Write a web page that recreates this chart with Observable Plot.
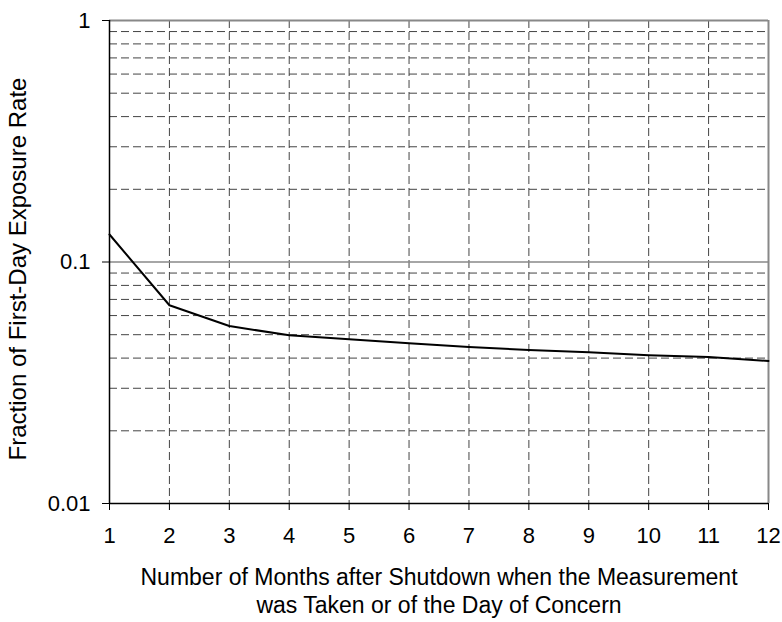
<!DOCTYPE html>
<html>
<head>
<meta charset="utf-8">
<script src="https://cdn.jsdelivr.net/npm/d3@7"></script>
<script src="https://cdn.jsdelivr.net/npm/@observablehq/plot@0.6"></script>
<style>
  html, body { margin: 0; padding: 0; background: white; }
</style>
</head>
<body>
<div id="chart"></div>
<script>
const months = [1, 2, 3, 4, 5, 6, 7, 8, 9, 10, 11, 12];
const fraction = [0.130, 0.0662, 0.0543, 0.0497, 0.0479, 0.0461, 0.0445, 0.0432, 0.0423, 0.0411, 0.0404, 0.0389];
const yTicks = [0.01, 0.1, 1];
const yTickLabels = ["0.01", "0.1", "1"];
const minorY = [0.02, 0.03, 0.04, 0.05, 0.06, 0.07, 0.08, 0.09, 0.2, 0.3, 0.4, 0.5, 0.6, 0.7, 0.8, 0.9];
const xGrid = [2, 3, 4, 5, 6, 7, 8, 9, 10, 11];
const yLabel = "Fraction of First-Day Exposure Rate";
const xLabel = "Number of Months after Shutdown when the Measurement\nwas Taken or of the Day of Concern";

const data = months.map((m, i) => ({month: m, value: fraction[i]}));

const chart = Plot.plot({
  width: 782,
  height: 622,
  marginLeft: 109,
  marginRight: 14,
  marginTop: 20,
  marginBottom: 119,
  style: {fontFamily: "'Liberation Sans', Arial, sans-serif", fontSize: "22px", background: "white", color: "black"},
  x: {domain: [1, 12]},
  y: {type: "log", domain: [0.01, 1]},
  marks: [
    Plot.ruleY(minorY, {stroke: "#444", strokeDasharray: "8,4"}),
    Plot.ruleX(xGrid, {stroke: "#444", strokeDasharray: "8,4"}),
    Plot.ruleY([0.1], {stroke: "#888", strokeWidth: 1.5}),
    Plot.ruleY([1], {stroke: "#888", strokeWidth: 2}),
    Plot.ruleX([12], {stroke: "#888", strokeWidth: 2}),
    Plot.ruleX([1], {stroke: "black", strokeWidth: 1.5}),
    Plot.ruleY([0.01], {stroke: "black", strokeWidth: 1.5}),
    Plot.line(data, {x: "month", y: "value", stroke: "black", strokeWidth: 2}),
    Plot.axisY(yTicks, {
      tickFormat: d => yTickLabels[yTicks.indexOf(d)],
      tickSize: 7, tickPadding: 12, label: null, fontSize: 22, stroke: "black"
    }),
    Plot.axisX(months, {tickSize: 7, tickPadding: 17, label: null, fontSize: 22, stroke: "black"}),
    Plot.text([yLabel], {frameAnchor: "left", textAnchor: "middle", dx: -91, dy: 7, rotate: -90, fontSize: 24, fill: "black"}),
    Plot.text([xLabel], {frameAnchor: "bottom", lineAnchor: "top", dy: 62, lineHeight: 1.22, fontSize: 23, fill: "black"})
  ]
});
document.getElementById("chart").appendChild(chart);
</script>
</body>
</html>
